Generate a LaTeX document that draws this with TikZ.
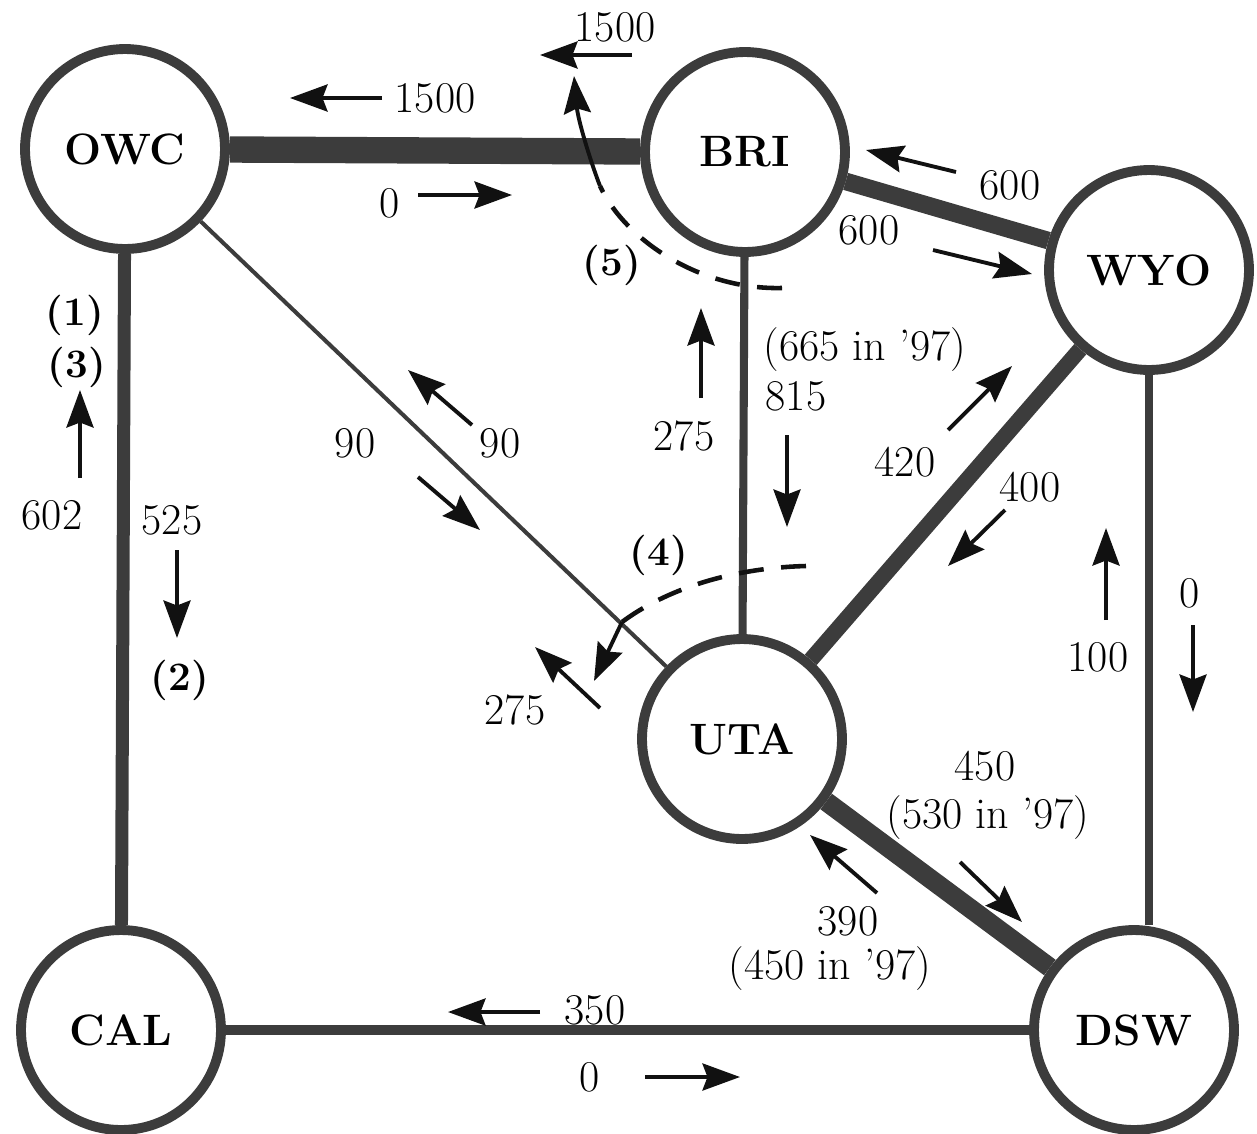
\documentclass[tikz,border=0pt]{standalone}
\usepackage{fontspec}
\usepackage{xcolor}
\definecolor{cLine}{HTML}{3C3C3C}
\definecolor{cFlow}{HTML}{111111}
\usepackage{tikz}
\usetikzlibrary{positioning,arrows.meta,calc}
\tikzset{
  node-area/.style={circle,draw=cLine,line width=5.6pt,fill=white,
    minimum size=4cm,inner sep=0pt,font=\fontsize{25}{29}\selectfont\bfseries},
  node-num/.style={inner sep=1pt,font=\fontsize{25}{29}\selectfont},
  node-tag/.style={inner sep=1pt,font=\fontsize{23}{27}\selectfont\bfseries},
  link/.style={draw=cLine},
  arrow-flow/.style={-{Stealth[length=7.5mm,width=5.4mm,inset=1mm]},
    line width=2.2pt,draw=cFlow},
  dash-cut/.style={line width=2.6pt,draw=cFlow,dash pattern=on 0.5cm off 0.35cm},
}
\begin{document}
\begin{tikzpicture}[x=0.02cm,y=-0.02cm]
  \useasboundingbox (0,0) rectangle (1257,1133);
  % areas
  \node[node-area] (owc) at (125,149) {OWC};
  \node[node-area] (bri) at (745,152) {BRI};
  \node[node-area] (wyo) at (1149,270) {WYO};
  \node[node-area] (uta) at (742,739) {UTA};
  \node[node-area] (cal) at (121,1030) {CAL};
  \node[node-area] (dsw) at (1134,1030) {DSW};
  % interties
  \draw[link,line width=15pt] (owc) -- (bri);
  \draw[link,line width=7.4pt] (owc) -- (cal);
  \draw[link,line width=2.3pt] (owc) -- (uta);
  \draw[link,line width=4.6pt] (bri) -- (uta);
  \draw[link,line width=10pt] (bri) -- (wyo);
  \draw[link,line width=9pt] (wyo) -- (uta);
  \draw[link,line width=11pt] (uta) -- (dsw);
  \draw[link,line width=4.6pt] (wyo.south) -- (wyo.south |- dsw.north);
  \draw[link,line width=6.2pt] (cal) -- (dsw);
  % flows OWC-BRI
  \node[node-num] (f-ob1) at (435,98) {1500};
  \draw[arrow-flow] (382,98) -- (290,98);
  \node[node-num] (f-ob2) at (390,203) {0};
  \draw[arrow-flow] (418,195) -- (512,195);
  \node[node-num] (f-ob3) at (615,27) {1500};
  \draw[arrow-flow] (632,55) -- (540,55);
  % cut (5)
  \node[node-tag] (t-5) at (612,265) {(5)};
  \draw[dash-cut] (782,288) .. controls (700,290) and (625,240) .. (600,186);
  \draw[arrow-flow] (600,186) .. controls (590,160) and (578,120) .. (574,76);
  % flows BRI-WYO
  \node[node-num] (f-bw1) at (1010,185) {600};
  \draw[arrow-flow] (956,172) -- (866,150);
  \node[node-num] (f-bw2) at (869,230) {600};
  \draw[arrow-flow] (933,250) -- (1032,274);
  % flows BRI-UTA
  \node[node-num] (f-bu1) at (865,350) {(665 in '97)};
  \node[node-num] (f-bu2) at (796,396) {815};
  \draw[arrow-flow] (787,435) -- (787,527);
  \node[node-num] (f-bu3) at (684,436) {275};
  \draw[arrow-flow] (701,398) -- (701,308);
  % cut (4)
  \node[node-tag] (t-4) at (659,555) {(4)};
  \draw[dash-cut] (806,566) .. controls (730,568) and (665,590) .. (622,622);
  \draw[arrow-flow] (622,622) -- (594,681);
  \node[node-num] (f-ou3) at (515,710) {275};
  \draw[arrow-flow] (600,708) -- (535,647);
  % flows WYO-UTA
  \node[node-num] (f-wu1) at (905,462) {420};
  \draw[arrow-flow] (948,430) -- (1012,366);
  \node[node-num] (f-wu2) at (1030,487) {400};
  \draw[arrow-flow] (1005,510) -- (948,566);
  % flows WYO-DSW
  \node[node-num] (f-wd1) at (1098,657) {100};
  \draw[arrow-flow] (1106,620) -- (1106,528);
  \node[node-num] (f-wd2) at (1190,593) {0};
  \draw[arrow-flow] (1193,625) -- (1193,712);
  % flows UTA-DSW
  \node[node-num] (f-ud1) at (985,766) {450};
  \node[node-num] (f-ud2) at (988,818) {(530 in '97)};
  \draw[arrow-flow] (960,862) -- (1022,922);
  \node[node-num] (f-ud3) at (848,921) {390};
  \node[node-num] (f-ud4) at (830,969) {(450 in '97)};
  \draw[arrow-flow] (877,893) -- (810,835);
  % flows OWC-UTA
  \node[node-num] (f-ou1) at (355,443) {90};
  \draw[arrow-flow] (418,477) -- (480,530);
  \node[node-num] (f-ou2) at (500,443) {90};
  \draw[arrow-flow] (472,425) -- (408,370);
  % flows OWC-CAL
  \node[node-tag] (t-1) at (75,315) {(1)};
  \node[node-tag] (t-3) at (77,367) {(3)};
  \node[node-num] (f-oc1) at (52,515) {602};
  \draw[arrow-flow] (80,478) -- (80,390);
  \node[node-num] (f-oc2) at (172,520) {525};
  \draw[arrow-flow] (177,550) -- (177,638);
  \node[node-tag] (t-2) at (180,680) {(2)};
  % flows CAL-DSW
  \node[node-num] (f-cd1) at (595,1010) {350};
  \draw[arrow-flow] (540,1012) -- (448,1012);
  \node[node-num] (f-cd2) at (590,1077) {0};
  \draw[arrow-flow] (645,1077) -- (740,1077);
\end{tikzpicture}
\end{document}
